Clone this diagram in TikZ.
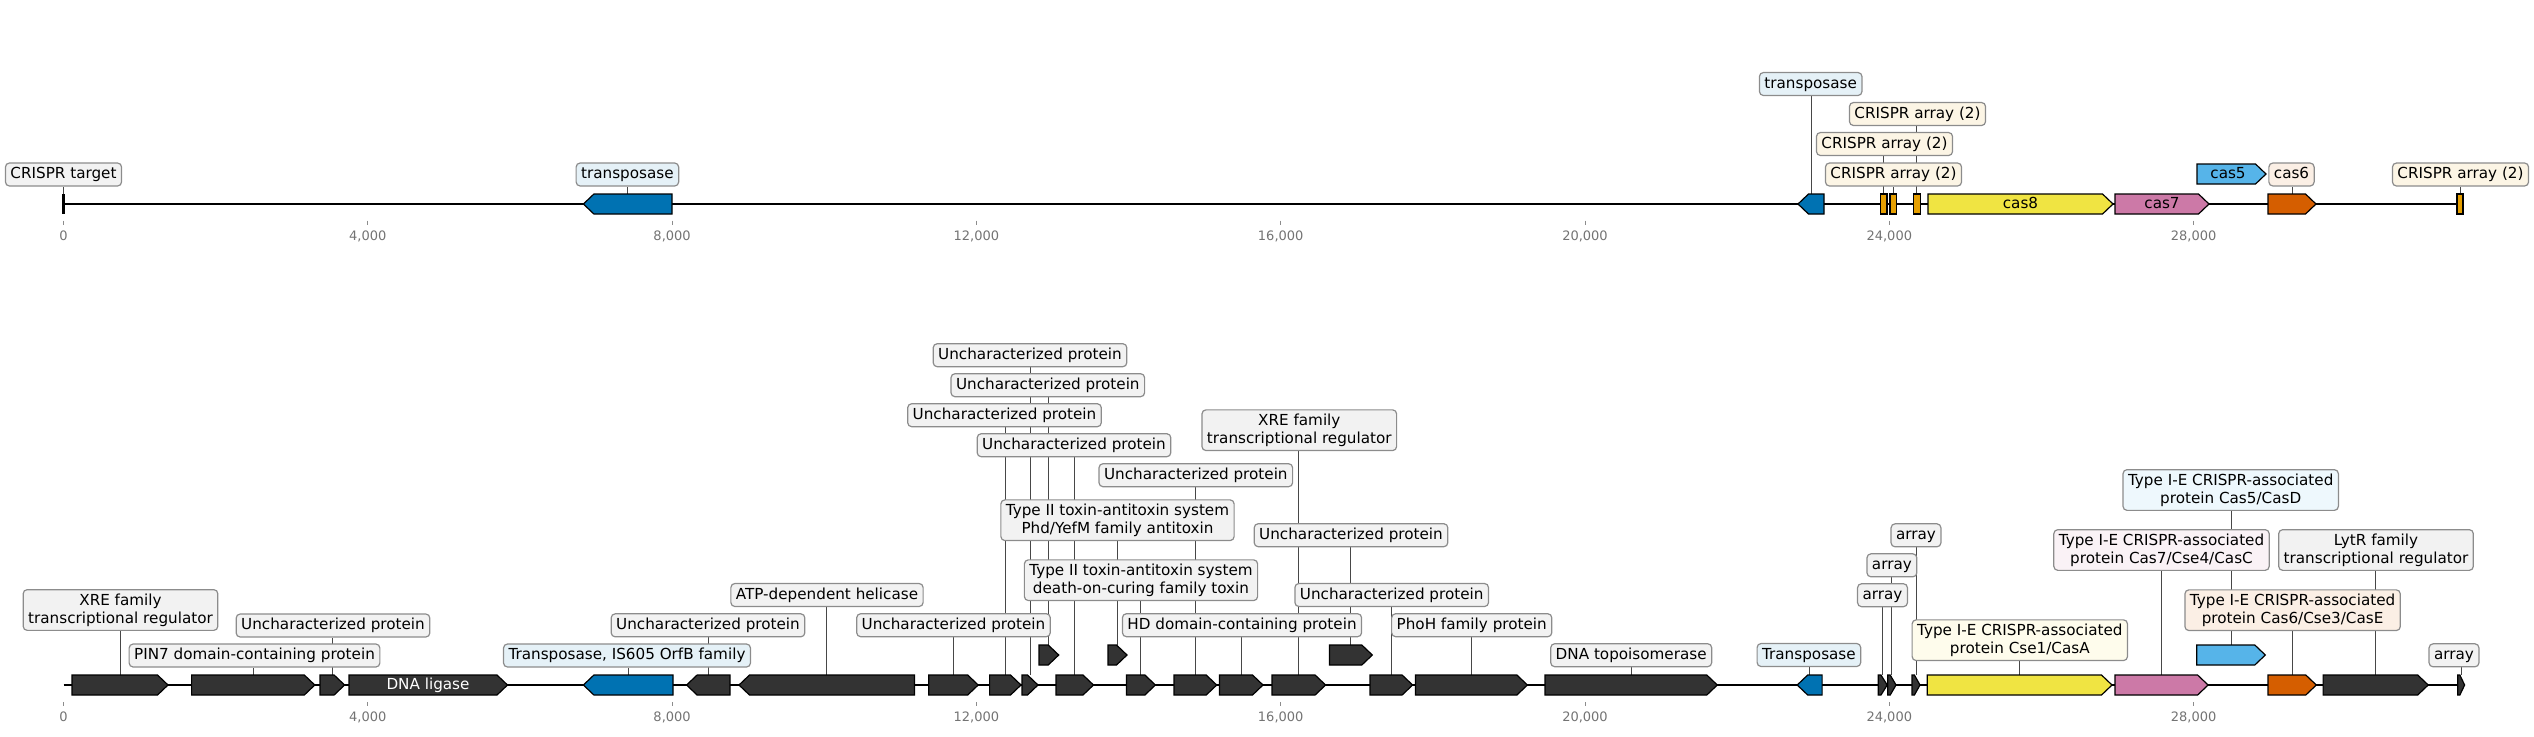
\documentclass[tikz,border=0pt]{standalone}
\usepackage{fontspec}
\setmainfont{DejaVu Sans}
\usepackage{tikz}
\pgfdeclarelayer{bg}
\pgfsetlayers{bg,main}
\definecolor{gdark}{HTML}{333333}
\definecolor{tblue}{HTML}{0072B2}
\definecolor{torange}{HTML}{E69F00}
\definecolor{tyellow}{HTML}{F0E442}
\definecolor{tpink}{HTML}{CC79A7}
\definecolor{tsky}{HTML}{56B4E9}
\definecolor{tverm}{HTML}{D55E00}
\definecolor{gboxc}{HTML}{F2F2F2}
\tikzset{
  lblbase/.style={draw=black!45, line width=0.6pt, rounded corners=2pt, inner xsep=2.5pt, font=\fontsize{7.6}{9}\selectfont},
  lbl/.style={lblbase, inner ysep=1.75pt, text height=6.1pt, text depth=1.9pt},
  lbltwo/.style={lblbase, inner ysep=2pt, align=center},
  gene/.style={draw=black, line width=0.6pt},
  leader/.style={draw=black!72, line width=0.5pt},
  track/.style={line width=1.4pt},
  ticmark/.style={draw=black!45, line width=0.5pt},
  ticklbl/.style={font=\fontsize{6.5}{8}\selectfont, text=black!55, inner sep=0pt, anchor=base},
  intxt/.style={font=\fontsize{7.6}{9}\selectfont, inner sep=0pt, text height=6.1pt, text depth=1.9pt}
}
\newcommand{\fgene}[5]{%
  \pgfmathsetmacro{\ghd}{min(10.5,0.7*(#3-#2))}
  \draw[gene, fill=#5] (#2,#4-10) -- ({#3-\ghd},#4-10) -- (#3,#4) -- ({#3-\ghd},#4+10) -- (#2,#4+10) -- cycle;
  \coordinate (#1) at ({(#2+#3)/2},#4-10);
}
\newcommand{\rgene}[5]{%
  \pgfmathsetmacro{\ghd}{min(10.5,0.7*(#3-#2))}
  \draw[gene, fill=#5] (#3,#4-10) -- ({#2+\ghd},#4-10) -- (#2,#4) -- ({#2+\ghd},#4+10) -- (#3,#4+10) -- cycle;
  \coordinate (#1) at ({(#2+#3)/2},#4-10);
}
\newcommand{\crarr}[4]{%
  \draw[gene, fill=torange] (#2,#4-10) rectangle (#3,#4+10);
  \coordinate (#1) at ({(#2+#3)/2},#4-10);
}

\begin{document}
\begin{tikzpicture}[x=0.5pt, y=-0.5pt]
\useasboundingbox (0,0) rectangle (2534,736);

\draw[track] (63.5,204) -- (2463,204);
\draw[track] (63.5,685) -- (2463,685);
\foreach \i/\t in {0/0,1/{4,000},2/{8,000},3/{12,000},4/{16,000},5/{20,000},6/{24,000},7/{28,000}} {
  \draw[ticmark] (63.5+304.3*\i,220.5) -- (63.5+304.3*\i,224.5);
  \node[ticklbl] (tt\i) at (63.5+304.3*\i,240) {\t};
  \draw[ticmark] (63.5+304.3*\i,702) -- (63.5+304.3*\i,706);
  \node[ticklbl] (tb\i) at (63.5+304.3*\i,721) {\t};
}

\draw[line width=1.5pt] (63.5,194) -- (63.5,214);
\coordinate (t1) at (63.5,194);
\rgene{t2}{583.4}{672}{204}{tblue}
\rgene{t3}{1798}{1824}{204}{tblue}
\crarr{t4}{1880.5}{1887}{204}
\crarr{t5}{1890}{1896.5}{204}
\crarr{t6}{1913.5}{1920.4}{204}
\fgene{t7}{1928}{2113}{204}{tyellow}
\fgene{t8}{2115}{2209}{204}{tpink}
\fgene{t9}{2197}{2266}{174}{tsky}
\fgene{t10}{2268}{2316}{204}{tverm}
\crarr{t11}{2457}{2463}{204}
\node[intxt] (c8) at (2020.5,204) {cas8};
\node[intxt] (c7) at (2162,204) {cas7};
\node[intxt] (c5) at (2228,174) {cas5};

\node[lbl, fill=gboxc] (lt1) at (63.5,174.5) {CRISPR target};
\node[lbl, fill=tblue!10] (lt2) at (627.4,174.5) {transposase};
\node[lbl, fill=tblue!10] (lt3) at (1810.7,84) {transposase};
\node[lbl, fill=torange!10] (lt4) at (1884.5,144) {CRISPR array (2)};
\node[lbl, fill=torange!10] (lt5) at (1893.5,174.5) {CRISPR array (2)};
\node[lbl, fill=torange!10] (lt6) at (1917.5,114) {CRISPR array (2)};
\node[lbl, fill=tverm!10] (lt10) at (2291.5,174.5) {cas6};
\node[lbl, fill=torange!10] (lt11) at (2460.5,174.5) {CRISPR array (2)};

\fgene{b1}{72}{168}{685}{gdark}
\fgene{b2}{191.6}{314.8}{685}{gdark}
\fgene{b3}{320}{344.6}{685}{gdark}
\fgene{b4}{349}{507.5}{685}{gdark}
\rgene{b5}{583.4}{673}{685}{tblue}
\rgene{b6}{686.6}{730}{685}{gdark}
\rgene{b7}{739}{914.5}{685}{gdark}
\fgene{b8}{928.8}{978.2}{685}{gdark}
\fgene{b9}{989.6}{1021}{685}{gdark}
\fgene{b10}{1022}{1038}{685}{gdark}
\fgene{b11}{1039}{1058.7}{655}{gdark}
\fgene{b12}{1056}{1093.5}{685}{gdark}
\fgene{b13}{1108}{1127}{655}{gdark}
\fgene{b14}{1126.5}{1155.4}{685}{gdark}
\fgene{b15}{1174}{1216.7}{685}{gdark}
\fgene{b16}{1219.5}{1263}{685}{gdark}
\fgene{b17}{1272}{1325.6}{685}{gdark}
\fgene{b18}{1329.5}{1372.3}{655}{gdark}
\fgene{b19}{1370}{1412.6}{685}{gdark}
\fgene{b20}{1415.4}{1527.4}{685}{gdark}
\fgene{b21}{1545}{1717.3}{685}{gdark}
\rgene{b22}{1797.2}{1822.1}{685}{tblue}
\fgene{b23}{1878.3}{1887.2}{685}{gdark}
\fgene{b24}{1887.7}{1896}{685}{gdark}
\fgene{b25}{1912}{1920}{685}{gdark}
\fgene{b26}{1927.2}{2112}{685}{tyellow}
\fgene{b27}{2115}{2208.1}{685}{tpink}
\fgene{b28}{2196.7}{2265.3}{655}{tsky}
\fgene{b29}{2268}{2316.3}{685}{tverm}
\fgene{b30}{2323.1}{2428.2}{685}{gdark}
\fgene{b31}{2457.8}{2464.6}{685}{gdark}
\node[intxt, text=white] (lig) at (428,685) {DNA ligase};

\node[lbltwo, fill=gboxc] (lb1) at (120.5,610) {XRE family\\transcriptional regulator};
\node[lbl, fill=gboxc] (lb2) at (254.5,655.5) {PIN7 domain-containing protein};
\node[lbl, fill=gboxc] (lb3) at (333,625.5) {Uncharacterized protein};
\node[lbl, fill=tblue!10] (lb5) at (627,655.5) {Transposase, IS605 OrfB family};
\node[lbl, fill=gboxc] (lb6) at (708,625.3) {Uncharacterized protein};
\node[lbl, fill=gboxc] (lb7) at (827,595) {ATP-dependent helicase};
\node[lbl, fill=gboxc] (lb8) at (953.5,625.2) {Uncharacterized protein};
\node[lbl, fill=gboxc] (lb9) at (1004.5,415.2) {Uncharacterized protein};
\node[lbl, fill=gboxc] (lb10) at (1030,355.2) {Uncharacterized protein};
\node[lbl, fill=gboxc] (lb11) at (1047.8,385.2) {Uncharacterized protein};
\node[lbl, fill=gboxc] (lb12) at (1074,445.2) {Uncharacterized protein};
\node[lbltwo, fill=gboxc] (lb13) at (1117.5,520.2) {Type II toxin-antitoxin system\\Phd/YefM family antitoxin};
\node[lbltwo, fill=gboxc] (lb14) at (1141,580.2) {Type II toxin-antitoxin system\\death-on-curing family toxin};
\node[lbl, fill=gboxc] (lb15) at (1195.8,475.2) {Uncharacterized protein};
\node[lbl, fill=gboxc] (lb16) at (1242,625.2) {HD domain-containing protein};
\node[lbltwo, fill=gboxc] (lb17) at (1299.3,430.2) {XRE family\\transcriptional regulator};
\node[lbl, fill=gboxc] (lb18) at (1351,535.2) {Uncharacterized protein};
\node[lbl, fill=gboxc] (lb19) at (1391.7,595) {Uncharacterized protein};
\node[lbl, fill=gboxc] (lb20) at (1471.7,625.2) {PhoH family protein};
\node[lbl, fill=gboxc] (lb21) at (1631.2,655.2) {DNA topoisomerase};
\node[lbl, fill=tblue!10] (lb22) at (1808.9,655) {Transposase};
\node[lbl, fill=gboxc] (lb23) at (1882.5,595.2) {array};
\node[lbl, fill=gboxc] (lb24) at (1891.9,565.3) {array};
\node[lbl, fill=gboxc] (lb25) at (1916,535.3) {array};
\node[lbltwo, fill=tyellow!10] (lb26) at (2019.8,640.2) {Type I-E CRISPR-associated\\protein Cse1/CasA};
\node[lbltwo, fill=tpink!10] (lb27) at (2161.5,550) {Type I-E CRISPR-associated\\protein Cas7/Cse4/CasC};
\node[lbltwo, fill=tsky!10] (lb28) at (2230.7,490) {Type I-E CRISPR-associated\\protein Cas5/CasD};
\node[lbltwo, fill=tverm!10] (lb29) at (2292.6,610.2) {Type I-E CRISPR-associated\\protein Cas6/Cse3/CasE};
\node[lbltwo, fill=gboxc] (lb30) at (2376,550) {LytR family\\transcriptional regulator};
\node[lbl, fill=gboxc] (lb31) at (2454,655.3) {array};

\begin{pgfonlayer}{bg}
\foreach \g in {1,2,3,4,5,6,10,11}
  \draw[leader] (t\g) -- (t\g |- lt\g.south);
\foreach \g in {1,2,3,5,6,7,8,9,10,11,12,13,14,15,16,17,18,19,20,21,22,23,24,25,26,27,28,29,30,31}
  \draw[leader] (b\g) -- (b\g |- lb\g.south);
\end{pgfonlayer}
\end{tikzpicture}
\end{document}
